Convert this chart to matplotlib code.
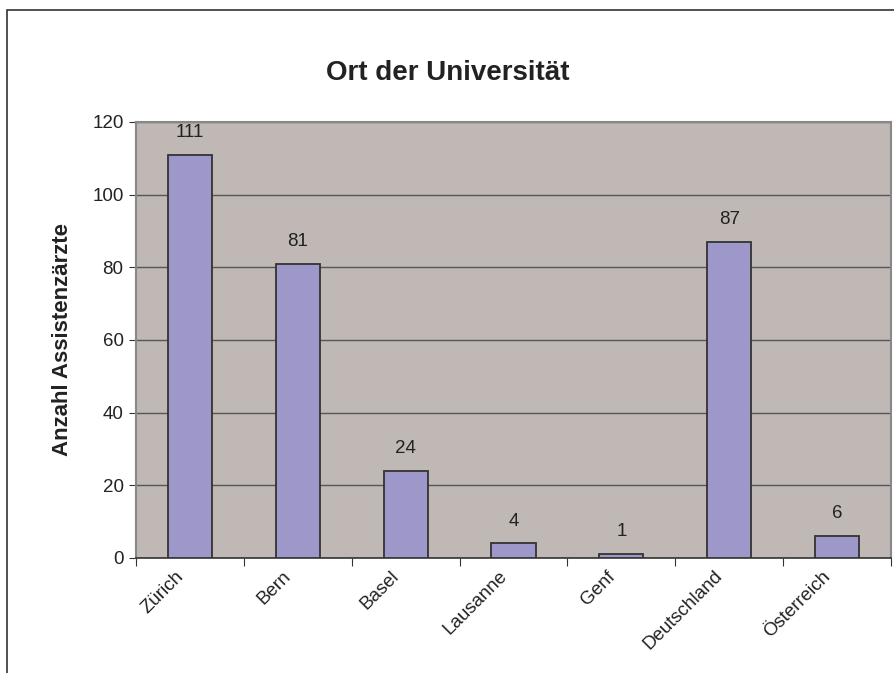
import matplotlib.pyplot as plt
import matplotlib.transforms as mtransforms
from matplotlib.patches import Rectangle
import numpy as np

plt.rcParams['font.family'] = ['Liberation Sans', 'DejaVu Sans']

# Daten
orte = ['Zürich', 'Bern', 'Basel', 'Lausanne', 'Genf', 'Deutschland', 'Österreich']
anzahl = [111, 81, 24, 4, 1, 87, 6]
y_ticks = [0, 20, 40, 60, 80, 100, 120]

fig = plt.figure(figsize=(8.95, 6.73), dpi=100)
ax = fig.add_axes([136 / 895, 115 / 673, 755 / 895, 436 / 673])

# äusserer Rahmen (rechts/unten abgeschnitten)
fig.patches.append(Rectangle((7 / 895, -0.1), 1.2, (663 / 673) + 0.1,
                             transform=fig.transFigure, fill=False,
                             edgecolor='#333333', linewidth=1.2))

ax.set_facecolor('#C0B8B5')
x = np.arange(len(orte))
bars = ax.bar(x, anzahl, width=0.41, color='#9D98C9', edgecolor='#333333',
              linewidth=1.3, zorder=3)

ax.set_xlim(-0.5, len(orte) - 0.5)
ax.set_ylim(0, 120)
ax.set_yticks(y_ticks)
ax.set_yticklabels(y_ticks, fontsize=13.5, color='#222222')
ax.yaxis.grid(True, color='#555555', linewidth=1, zorder=1)
ax.tick_params(axis='y', direction='out', length=5, color='#333333', pad=4)

# Striche an den Kategoriegrenzen, Beschriftung in der Mitte
ax.set_xticks(np.arange(-0.5, len(orte), 1.0))
ax.set_xticklabels([])
ax.tick_params(axis='x', which='major', direction='out', length=6, color='#333333')
ax.set_xticks(x, minor=True)
ax.set_xticklabels(orte, minor=True, rotation=45, ha='right', va='top',
                   rotation_mode='anchor', fontsize=13.5, color='#222222')
ax.tick_params(axis='x', which='minor', length=0, pad=7)
shift = mtransforms.ScaledTranslation(-15 / 100, 0, fig.dpi_scale_trans)
for lbl in ax.get_xticklabels(minor=True):
    lbl.set_transform(lbl.get_transform() + shift)

for s in ['top', 'right', 'left']:
    ax.spines[s].set_color('#888888')
    ax.spines[s].set_linewidth(1.5)
ax.spines['bottom'].set_color('#333333')
ax.spines['bottom'].set_linewidth(1.2)

for b, v in zip(bars, anzahl):
    ax.annotate(str(v), (b.get_x() + b.get_width() / 2, v), xytext=(0, 10),
                textcoords='offset points', ha='center', va='bottom',
                fontsize=13.5, color='#222222')

ax.set_ylabel('Anzahl Assistenzärzte', fontsize=16, fontweight='bold',
              color='#222222')
ax.yaxis.set_label_coords(-0.084, 0.5)
fig.text(448 / 895, 1 - 73 / 673, 'Ort der Universität', ha='center',
         va='center', fontsize=20, fontweight='bold', color='#222222')

fig.savefig('out.png', dpi=100)
